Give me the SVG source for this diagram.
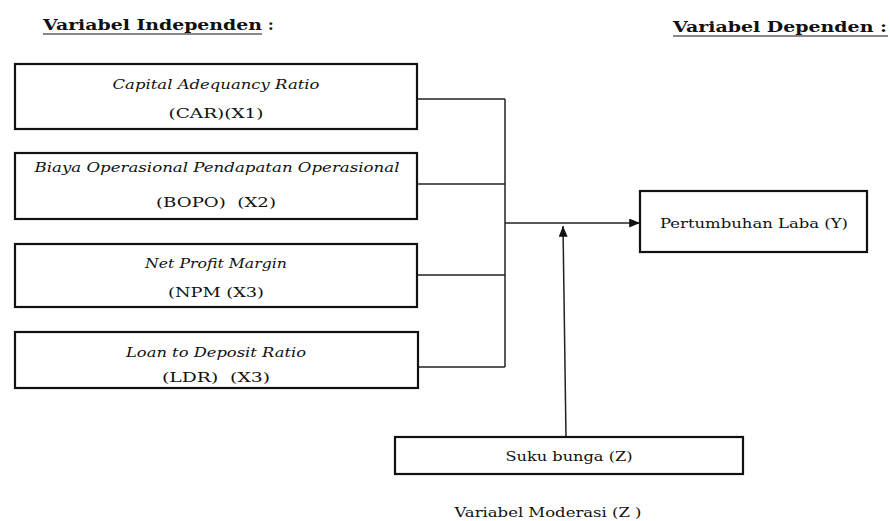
<svg xmlns="http://www.w3.org/2000/svg" width="890" height="521" viewBox="0 0 890 521">
<style>
text{font-family:"DejaVu Serif","Liberation Serif",serif;fill:#111;}
.box{fill:#fff;stroke:#111;stroke-width:2.2;}
.con{fill:none;stroke:#222;stroke-width:1.5;}
.it{font-style:italic;font-size:12.5px;}
.rg{font-size:13px;}
.hd{font-weight:bold;font-size:15.5px;}
</style>
<defs>
<marker id="ah" viewBox="0 0 12 10" refX="12" refY="5" markerWidth="11" markerHeight="9" markerUnits="userSpaceOnUse" orient="auto">
<path d="M0,0 L12,5 L0,10 Z" fill="#111"/>
</marker>
</defs>
<rect width="890" height="521" fill="#fff"/>
<g id="title-independen">
<text class="hd" x="43" y="30" textLength="219" lengthAdjust="spacingAndGlyphs">Variabel Independen</text>
<text class="hd" x="268" y="30">:</text>
<line x1="43" y1="34" x2="262" y2="34" stroke="#111" stroke-width="1"/>
</g>
<g id="title-dependen">
<text class="hd" x="673" y="32" textLength="214" lengthAdjust="spacingAndGlyphs">Variabel Dependen :</text>
<line x1="673" y1="36" x2="888" y2="36" stroke="#111" stroke-width="1"/>
</g>
<g id="connectors">
<line class="con" x1="417" y1="99" x2="505" y2="99"/>
<line class="con" x1="417" y1="184" x2="505" y2="184"/>
<line class="con" x1="417" y1="275" x2="505" y2="275"/>
<line class="con" x1="417" y1="367" x2="505" y2="367"/>
<line class="con" x1="505" y1="99" x2="505" y2="367"/>
<line class="con" x1="505" y1="223" x2="640" y2="223" marker-end="url(#ah)"/>
<line class="con" x1="566" y1="437" x2="563" y2="226" marker-end="url(#ah)"/>
</g>
<g id="node-car">
<rect class="box" x="15" y="64" width="402" height="65"/>
<text class="it" x="216" y="89" text-anchor="middle" textLength="207" lengthAdjust="spacingAndGlyphs">Capital Adequancy Ratio</text>
<text class="rg" x="216" y="118" text-anchor="middle" textLength="95" lengthAdjust="spacingAndGlyphs">(CAR)(X1)</text>
</g>
<g id="node-bopo">
<rect class="box" x="15" y="153" width="402" height="66"/>
<text class="it" x="217" y="172" text-anchor="middle" textLength="365" lengthAdjust="spacingAndGlyphs">Biaya Operasional Pendapatan Operasional</text>
<text class="rg" x="216" y="207" text-anchor="middle" xml:space="preserve" textLength="120" lengthAdjust="spacingAndGlyphs">(BOPO)  (X2)</text>
</g>
<g id="node-npm">
<rect class="box" x="15" y="244" width="402" height="63"/>
<text class="it" x="216" y="268" text-anchor="middle" textLength="142" lengthAdjust="spacingAndGlyphs">Net Profit Margin</text>
<text class="rg" x="216" y="297" text-anchor="middle" textLength="96" lengthAdjust="spacingAndGlyphs">(NPM (X3)</text>
</g>
<g id="node-ldr">
<rect class="box" x="15" y="332" width="403" height="56"/>
<text class="it" x="216" y="357" text-anchor="middle" textLength="180" lengthAdjust="spacingAndGlyphs">Loan to Deposit Ratio</text>
<text class="rg" x="216" y="382" text-anchor="middle" xml:space="preserve" textLength="108" lengthAdjust="spacingAndGlyphs">(LDR)  (X3)</text>
</g>
<g id="node-laba">
<rect class="box" x="640" y="191" width="227" height="61"/>
<text class="rg" x="754" y="228" text-anchor="middle" textLength="188" lengthAdjust="spacingAndGlyphs">Pertumbuhan Laba (Y)</text>
</g>
<g id="node-suku">
<rect class="box" x="395" y="437" width="348" height="37"/>
<text class="rg" x="569" y="461" text-anchor="middle" textLength="127" lengthAdjust="spacingAndGlyphs">Suku bunga (Z)</text>
</g>
<g id="label-moderasi">
<text class="rg" x="548" y="517" text-anchor="middle" textLength="187" lengthAdjust="spacingAndGlyphs">Variabel Moderasi (Z )</text>
</g>
</svg>
